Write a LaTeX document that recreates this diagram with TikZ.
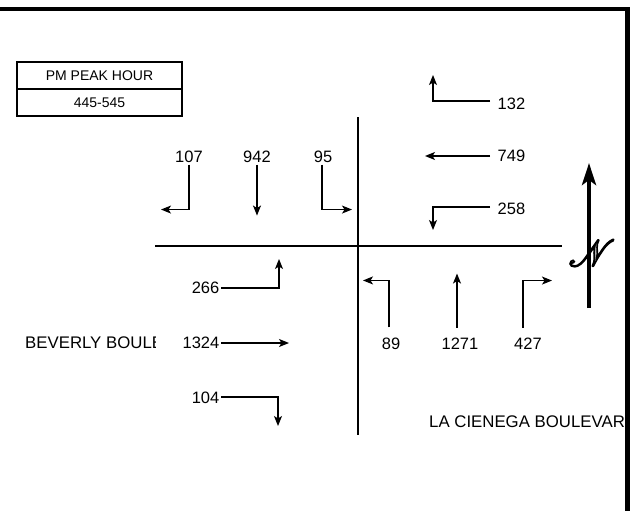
\documentclass[tikz,border=0pt]{standalone}
\usepackage{fontspec}
\setmainfont{Liberation Sans}
\usepackage{mathrsfs}
\usetikzlibrary{arrows.meta}
\tikzset{
  lbl/.style={font=\fontsize{16.5}{19}\selectfont, inner sep=1.5pt},
  street/.style={font=\fontsize{16.8}{19}\selectfont, inner sep=0pt},
  tbl/.style={draw, line width=1.4pt, minimum width=165pt, minimum height=27pt, inner sep=0pt, font=\fontsize{14}{16}\selectfont},
  road/.style={line width=2pt},
  arr/.style={line width=1.2pt, -{Stealth[length=10pt,width=8pt,inset=2.5pt]}},
  frame/.style={line width=4.5pt, line join=miter},
  northarr/.style={line width=4pt, -{Stealth[length=22pt,width=14pt,inset=5pt]}}
}
\begin{document}
\begin{tikzpicture}[x=1pt,y=-1pt]
\useasboundingbox (0,0) rectangle (643,511);
% table
\node[tbl] (t1) at (99.5,75.5) {PM PEAK HOUR};
\node[tbl] (t2) at (99.5,102.5) {445-545};
% roads
\coordinate (rw) at (155,246);
\coordinate (re) at (562,246);
\coordinate (rn) at (358,117);
\coordinate (rs) at (358,435);
\draw[road] (rw) -- (re);
\draw[road] (rn) -- (rs);
% north approach
\node[lbl] (n107) at (189,157) {107};
\node[lbl] (n942) at (257,157) {942};
\node[lbl] (n95) at (323,157) {95};
\draw[arr] (n107.south) -- ++(0,45) -- ++(-28,0);
\draw[arr] (n942.south) -- ++(0,51);
\draw[arr] ([xshift=-1pt]n95.south) -- ++(0,45) -- ++(30,0);
% east approach
\node[lbl, anchor=west] (n132) at (496,104) {132};
\node[lbl, anchor=west] (n749) at (496,156) {749};
\node[lbl, anchor=west] (n258) at (496,209) {258};
\draw[arr] ([xshift=-6pt,yshift=3pt]n132.west) -- ++(-57,0) -- ++(0,-26);
\draw[arr] ([xshift=-6pt]n749.west) -- ++(-65,0);
\draw[arr] ([xshift=-6pt,yshift=2pt]n258.west) -- ++(-57,0) -- ++(0,23);
% west approach
\node[lbl, anchor=east] (n266) at (221,288) {266};
\node[lbl, anchor=east] (n1324) at (221,343) {1324};
\node[lbl, anchor=east] (n104) at (221,398) {104};
\draw[arr] (n266.east) -- ++(58,0) -- ++(0,-29);
\draw[arr] (n1324.east) -- ++(68,0);
\draw[arr] ([yshift=1pt]n104.east) -- ++(57,0) -- ++(0,29);
% south approach
\node[lbl] (n89) at (391,344) {89};
\node[lbl] (n1271) at (460,344) {1271};
\node[lbl] (n427) at (528,344) {427};
\draw[arr] ([xshift=-2pt,yshift=9pt]n89.north) -- ++(0,-47) -- ++(-26,0);
\draw[arr] ([xshift=-3pt,yshift=9pt]n1271.north) -- ++(0,-54);
\draw[arr] ([xshift=-5pt,yshift=9pt]n427.north) -- ++(0,-47) -- ++(29,0);
% street names
\begin{scope}
\clip (0,320) rectangle (155.5,370);
\node[street, anchor=west] (bev) at (25,343) {BEVERLY BOULEVARD};
\end{scope}
\begin{scope}
\clip (400,400) rectangle (625,445);
\node[street, anchor=west] (lac) at (429,422) {LA CIENEGA BOULEVARD};
\end{scope}
% north symbol
\node[inner sep=0pt, text=gray!60] (N) at (592,253) {\special{pdf:literal direct 2 Tr 0.45 w 0 G}\scalebox{3.7}{$\mathscr{N}$}\special{pdf:literal direct 0 Tr}};
\coordinate (ns) at (589,308);
\coordinate (nn) at (589,163);
\draw[northarr] (ns) -- (nn);
% frame
\coordinate (f1) at (0,9);
\coordinate (f2) at (627.5,9);
\coordinate (f3) at (627.5,511);
\draw[frame] (f1) -- (f2) -- (f3);
\end{tikzpicture}
\end{document}
